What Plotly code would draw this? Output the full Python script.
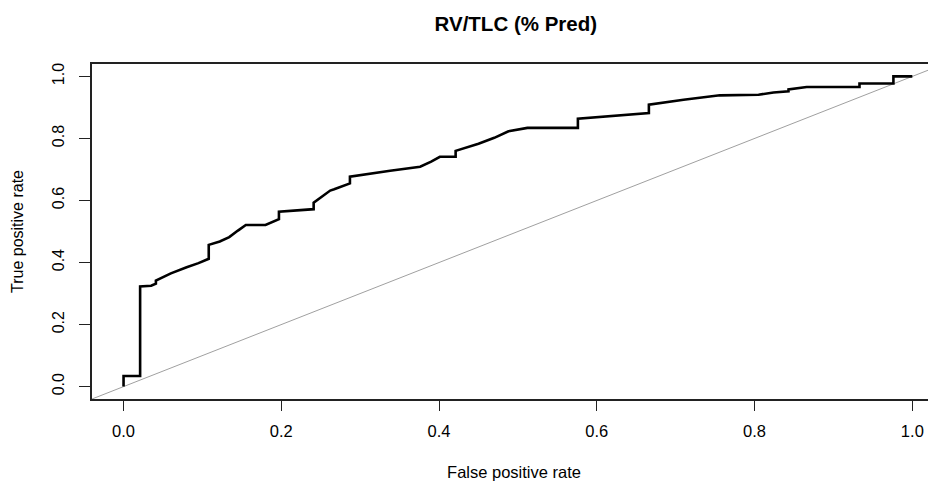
import plotly.graph_objects as go

# ROC curve vertices
fpr = [0.0, 0.0, 0.021, 0.021, 0.035, 0.041, 0.041, 0.060, 0.080, 0.095, 0.108,
       0.108, 0.122, 0.134, 0.145, 0.155, 0.180, 0.190, 0.197, 0.197, 0.214,
       0.241, 0.241, 0.252, 0.262, 0.267, 0.287, 0.287, 0.310, 0.338, 0.376,
       0.390, 0.401, 0.421, 0.421, 0.450, 0.470, 0.488, 0.512, 0.576, 0.576,
       0.620, 0.666, 0.666, 0.710, 0.756, 0.795, 0.805, 0.824, 0.843, 0.843,
       0.866, 0.933, 0.933, 0.976, 0.976, 1.0]
tpr = [0.0, 0.034, 0.034, 0.323, 0.325, 0.332, 0.342, 0.365, 0.385, 0.398, 0.412,
       0.457, 0.468, 0.482, 0.503, 0.521, 0.521, 0.532, 0.540, 0.564, 0.568,
       0.572, 0.593, 0.615, 0.632, 0.636, 0.655, 0.677, 0.686, 0.696, 0.709,
       0.725, 0.741, 0.741, 0.760, 0.783, 0.802, 0.823, 0.834, 0.834, 0.864,
       0.873, 0.882, 0.909, 0.925, 0.939, 0.941, 0.941, 0.948, 0.952, 0.958,
       0.966, 0.966, 0.977, 0.977, 1.0, 1.0]

# reference diagonal (abline 0,1), clipped by the plot area
diag = [-0.5, 1.5]

x_ticks = [0.0, 0.2, 0.4, 0.6, 0.8, 1.0]
x_tick_labels = ["0.0", "0.2", "0.4", "0.6", "0.8", "1.0"]
y_ticks = [0.0, 0.2, 0.4, 0.6, 0.8, 1.0]
y_tick_labels = ["0.0", "0.2", "0.4", "0.6", "0.8", "1.0"]

title_text = "RV/TLC (% Pred)"
x_title = "False positive rate"
y_title = "True positive rate"

FONT = "Liberation Sans, Arial, Helvetica, sans-serif"

# page has an 8px body margin; figure sized to fit the 936x481 window
W, H = 928, 473

fig = go.Figure()
fig.add_trace(go.Scatter(x=diag, y=diag, mode="lines",
                         line=dict(color="#a0a0a0", width=1), hoverinfo="skip"))
fig.add_trace(go.Scatter(x=fpr, y=tpr, mode="lines",
                         line=dict(color="#000000", width=2.6)))

fig.update_layout(
    width=W, height=H,
    margin=dict(l=84, r=0, t=56, b=82, pad=0),
    plot_bgcolor="white", paper_bgcolor="white",
    showlegend=False,
    font=dict(family=FONT, color="#000000"),
    title=dict(text="<b>" + title_text + "</b>", xref="container", x=507.8 / W,
               xanchor="center", yref="container", y=1 - 16 / H, yanchor="middle",
               font=dict(family=FONT, size=20.5, color="#000000")),
)
fig.update_xaxes(
    range=[-0.04, 1.03], tickvals=x_ticks, ticktext=x_tick_labels,
    ticks="outside", ticklen=10, tickwidth=1.2, tickcolor="#222222",
    showline=True, linecolor="#222222", linewidth=1.6, mirror=True,
    showgrid=False, zeroline=False, automargin=False, ticklabelstandoff=6,
    tickfont=dict(family=FONT, size=16.5, color="#000000"),
    title=dict(text=x_title, font=dict(family=FONT, size=16.5, color="#000000"), standoff=33),
)
fig.update_yaxes(
    range=[-0.04, 1.04], tickvals=y_ticks, ticktext=y_tick_labels, tickangle=-90,
    ticks="outside", ticklen=11, tickwidth=1.2, tickcolor="#222222",
    showline=True, linecolor="#222222", linewidth=1.6, mirror=False,
    showgrid=False, zeroline=False, automargin=False, ticklabelstandoff=9,
    tickfont=dict(family=FONT, size=16, color="#000000"),
    title=dict(text=y_title, font=dict(family=FONT, size=16, color="#000000"), standoff=22),
)

fig.write_html("out.html")
